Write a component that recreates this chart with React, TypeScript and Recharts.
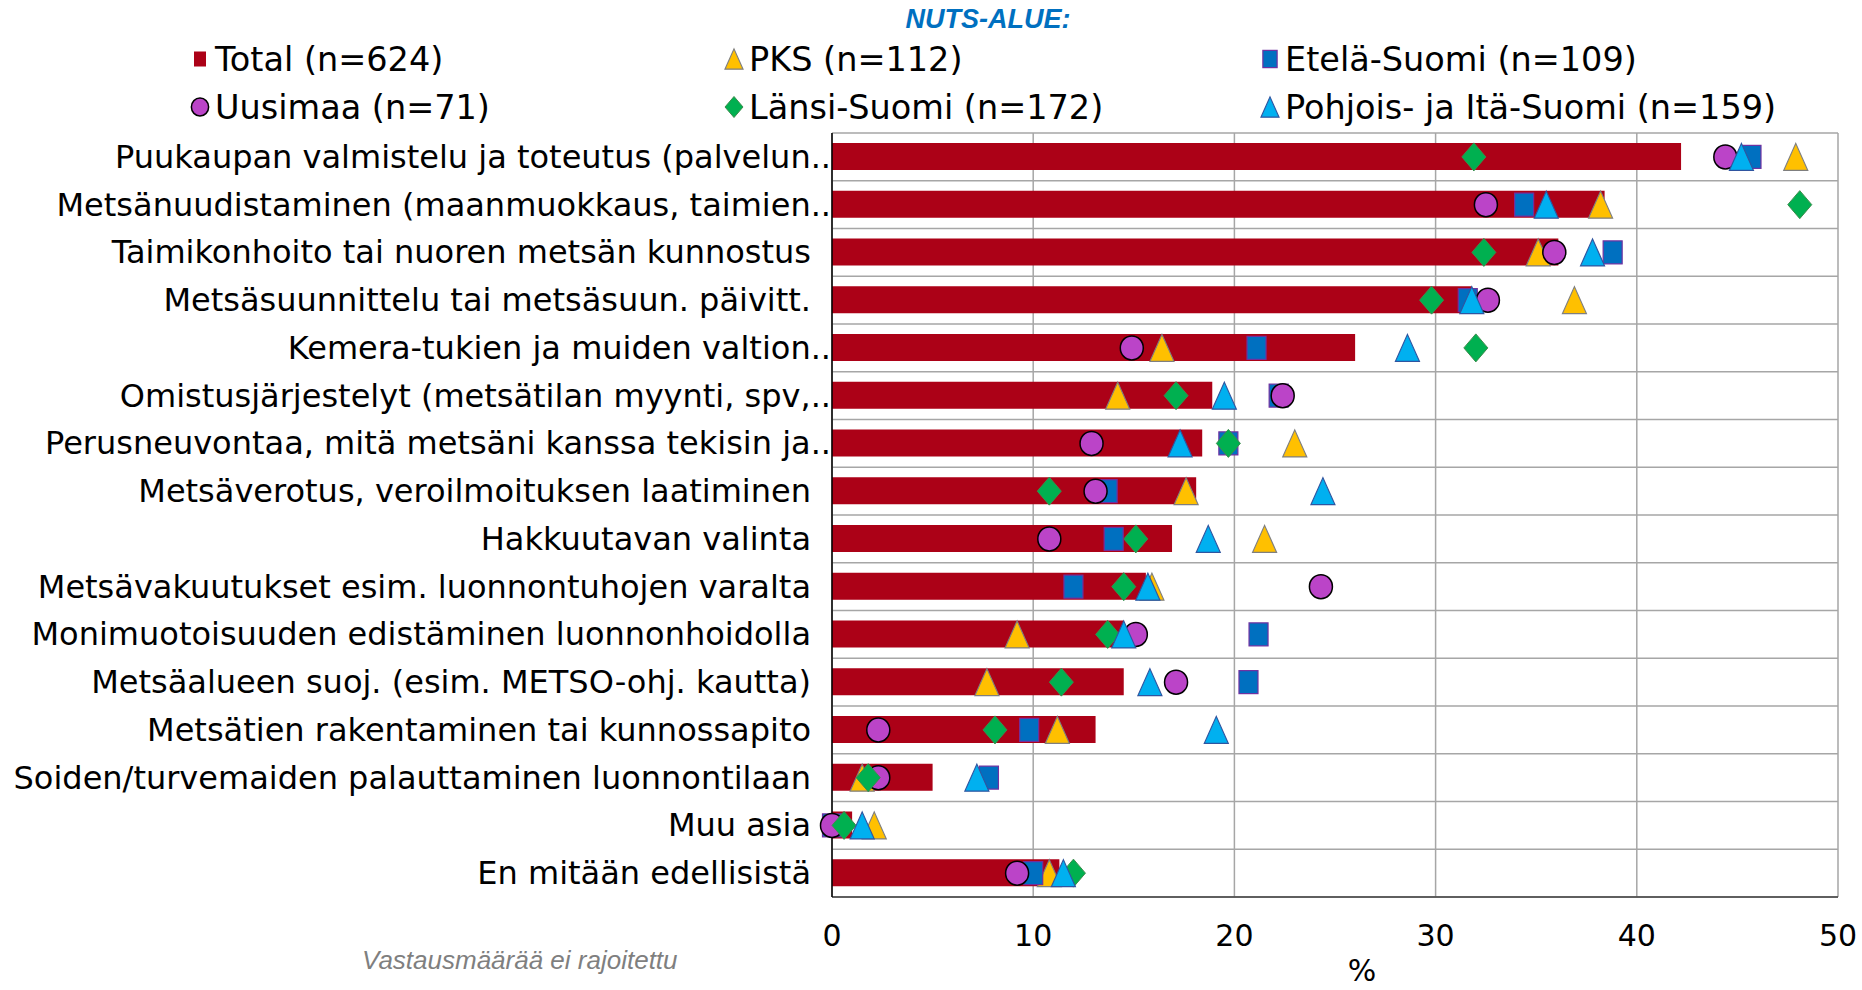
import React from "react";
import {
  ComposedChart,
  Bar,
  Line,
  XAxis,
  YAxis,
  CartesianGrid,
  Label,
} from "recharts";

const categories = [
  "Puukaupan valmistelu ja toteutus (palvelun..",
  "Metsänuudistaminen (maanmuokkaus, taimien..",
  "Taimikonhoito tai nuoren metsän kunnostus",
  "Metsäsuunnittelu tai metsäsuun. päivitt.",
  "Kemera-tukien ja muiden valtion..",
  "Omistusjärjestelyt (metsätilan myynti, spv,..",
  "Perusneuvontaa, mitä metsäni kanssa tekisin ja..",
  "Metsäverotus, veroilmoituksen laatiminen",
  "Hakkuutavan valinta",
  "Metsävakuutukset esim. luonnontuhojen varalta",
  "Monimuotoisuuden edistäminen luonnonhoidolla",
  "Metsäalueen suoj. (esim. METSO-ohj. kautta)",
  "Metsätien rakentaminen tai kunnossapito",
  "Soiden/turvemaiden palauttaminen luonnontilaan",
  "Muu asia",
  "En mitään edellisistä",
];

const total = [42.2, 38.4, 36.1, 31.8, 26.0, 18.9, 18.4, 18.1, 16.9, 15.6, 14.5, 14.5, 13.1, 5.0, 1.0, 11.3];
const pks = [47.9, 38.2, 35.1, 36.9, 16.4, 14.2, 23.0, 17.6, 21.5, 15.9, 9.2, 7.7, 11.2, 1.5, 2.1, 10.8];
const etela = [45.7, 34.4, 38.8, 31.6, 21.1, 22.2, 19.7, 13.7, 14.0, 12.0, 21.2, 20.7, 9.8, 7.8, 0.0, 10.0];
const uusimaa = [44.4, 32.5, 35.9, 32.6, 14.9, 22.4, 12.9, 13.1, 10.8, 24.3, 15.1, 17.1, 2.3, 2.3, 0.0, 9.2];
const lansi = [31.9, 48.1, 32.4, 29.8, 32.0, 17.1, 19.7, 10.8, 15.1, 14.5, 13.7, 11.4, 8.1, 1.8, 0.6, 12.0];
const pohjois = [45.2, 35.5, 37.8, 31.8, 28.6, 19.5, 17.3, 24.4, 18.7, 15.7, 14.5, 15.8, 19.1, 7.2, 1.5, 11.5];

const xTicks = [0, 10, 20, 30, 40, 50];

const legendItems = [
  { label: "Total (n=624)", shape: "bar" },
  { label: "PKS (n=112)", shape: "pks" },
  { label: "Etelä-Suomi (n=109)", shape: "etela" },
  { label: "Uusimaa (n=71)", shape: "uusimaa" },
  { label: "Länsi-Suomi (n=172)", shape: "lansi" },
  { label: "Pohjois- ja Itä-Suomi (n=159)", shape: "pohjois" },
];

const data = categories.map((name, i) => ({
  name,
  total: total[i],
  pks: pks[i],
  etela: etela[i],
  uusimaa: uusimaa[i],
  lansi: lansi[i],
  pohjois: pohjois[i],
}));

const FONT = "'DejaVu Sans', Verdana, sans-serif";
const ARIAL = "'Liberation Sans', Arial, sans-serif";

const RED = "#AC0117";
const YELLOW = "#FFC000";
const BLUE = "#0070C0";
const PURPLE = "#BB44C8";
const GREEN = "#00B050";
const CYAN = "#00B0F0";

// marker shapes, scaled by s so the legend can reuse them
const markerSvg = (kind: string, cx: number, cy: number, s = 1, key?: any) => {
  if (kind === "pks" || kind === "pohjois") {
    const w = 24 * s;
    const h = 27 * s;
    return (
      <path
        key={key}
        d={`M${cx},${cy - h / 2} L${cx + w / 2},${cy + h / 2} L${cx - w / 2},${cy + h / 2} Z`}
        fill={kind === "pks" ? YELLOW : CYAN}
        stroke={kind === "pks" ? "#7F7F7F" : "#2F55A0"}
        strokeWidth={1.2}
      />
    );
  }
  if (kind === "etela") {
    const w = 19 * s;
    const h = 23 * s;
    return (
      <rect key={key} x={cx - w / 2} y={cy - h / 2} width={w} height={h} fill={BLUE} stroke="#7030A0" strokeWidth={1.2} />
    );
  }
  if (kind === "uusimaa") {
    return <ellipse key={key} cx={cx} cy={cy} rx={11.5 * s} ry={12 * s} fill={PURPLE} stroke="#000" strokeWidth={1.5} />;
  }
  if (kind === "lansi") {
    const w = 24 * s;
    const h = 28 * s;
    return (
      <path
        key={key}
        d={`M${cx},${cy - h / 2} L${cx + w / 2},${cy} L${cx},${cy + h / 2} L${cx - w / 2},${cy} Z`}
        fill={GREEN}
        stroke="#3C8C4C"
        strokeWidth={1}
      />
    );
  }
  return <rect key={key} x={cx - 8 * s} y={cy - 10 * s} width={16 * s} height={20 * s} fill={RED} />;
};

const dotFor = (kind: string) => (p: any) => markerSvg(kind, p.cx, p.cy, 1, `${kind}-${p.index}`);

const CategoryTick = (props: any) => {
  const { x, y, payload } = props;
  const cut = payload.value.endsWith("..");
  return (
    <text
      x={cut ? x + 20 : x}
      y={y}
      dy={11}
      textAnchor="end"
      fontFamily={FONT}
      fontSize={32}
      fill="#000"
    >
      {payload.value}
    </text>
  );
};

const LegendBlock = () => {
  const cols = [188, 722, 1258];
  const rows = [59, 107];
  return (
    <div style={{ position: "absolute", left: 0, top: 0, width: 1862, height: 130 }}>
      <div
        style={{
          position: "absolute",
          left: 888,
          top: 4,
          width: 200,
          textAlign: "center",
          fontFamily: ARIAL,
          fontWeight: "bold",
          fontStyle: "italic",
          fontSize: 27,
          color: BLUE,
          lineHeight: "30px",
        }}
      >
        NUTS-ALUE:
      </div>
      {legendItems.map((item, i) => {
        const left = cols[i % 3];
        const cy = rows[Math.floor(i / 3)];
        return (
          <div key={item.label} style={{ position: "absolute", left, top: cy - 20, height: 40, display: "flex", alignItems: "center" }}>
            <svg width={24} height={26} style={{ marginRight: 3 }}>
              {markerSvg(item.shape, 12, 13, 0.75)}
            </svg>
            <span style={{ fontFamily: FONT, fontSize: 33.5, color: "#000", whiteSpace: "nowrap" }}>{item.label}</span>
          </div>
        );
      })}
    </div>
  );
};

export default function App() {
  return (
    <div style={{ position: "relative", width: 1862, height: 990, background: "#fff" }}>
      <style>{`body{margin:0}`}</style>
      <LegendBlock />
      <ComposedChart
        width={1862}
        height={990}
        data={data}
        layout="vertical"
        margin={{ top: 133, right: 24, bottom: 0, left: 0 }}
        barSize={27}
      >
        <CartesianGrid
          stroke="#A6A6A6"
          strokeWidth={1.5}
          horizontalCoordinatesGenerator={({ offset }: any) =>
            categories.map((_, i) => offset.top + (i * offset.height) / categories.length).concat(offset.top + offset.height)
          }
        />
        <XAxis
          type="number"
          domain={[0, 50]}
          ticks={xTicks}
          tickLine={false}
          axisLine={{ stroke: "#404040", strokeWidth: 1.5 }}
          tickMargin={22}
          height={93}
          tick={{ fontFamily: FONT, fontSize: 30, fill: "#000" }}
        >
          <Label value="%" position="insideBottom" offset={9} dx={27} style={{ fontFamily: FONT, fontSize: 30, fill: "#000" }} />
        </XAxis>
        <YAxis
          type="category"
          dataKey="name"
          width={832}
          tickSize={0}
          tickMargin={21}
          tick={<CategoryTick />}
          axisLine={{ stroke: "#000", strokeWidth: 1.5 }}
          interval={0}
        />
        <Bar dataKey="total" fill={RED} isAnimationActive={false} />
        {["pks", "etela", "uusimaa", "lansi", "pohjois"].map((k) => (
          <Line
            key={k}
            dataKey={k}
            stroke="none"
            dot={dotFor(k)}
            activeDot={false}
            isAnimationActive={false}
          />
        ))}
      </ComposedChart>
      <div
        style={{
          position: "absolute",
          left: 362,
          top: 945,
          fontFamily: ARIAL,
          fontStyle: "italic",
          fontSize: 26,
          color: "#7F7F7F",
          whiteSpace: "nowrap",
        }}
      >
        Vastausmäärää ei rajoitettu
      </div>
    </div>
  );
}
